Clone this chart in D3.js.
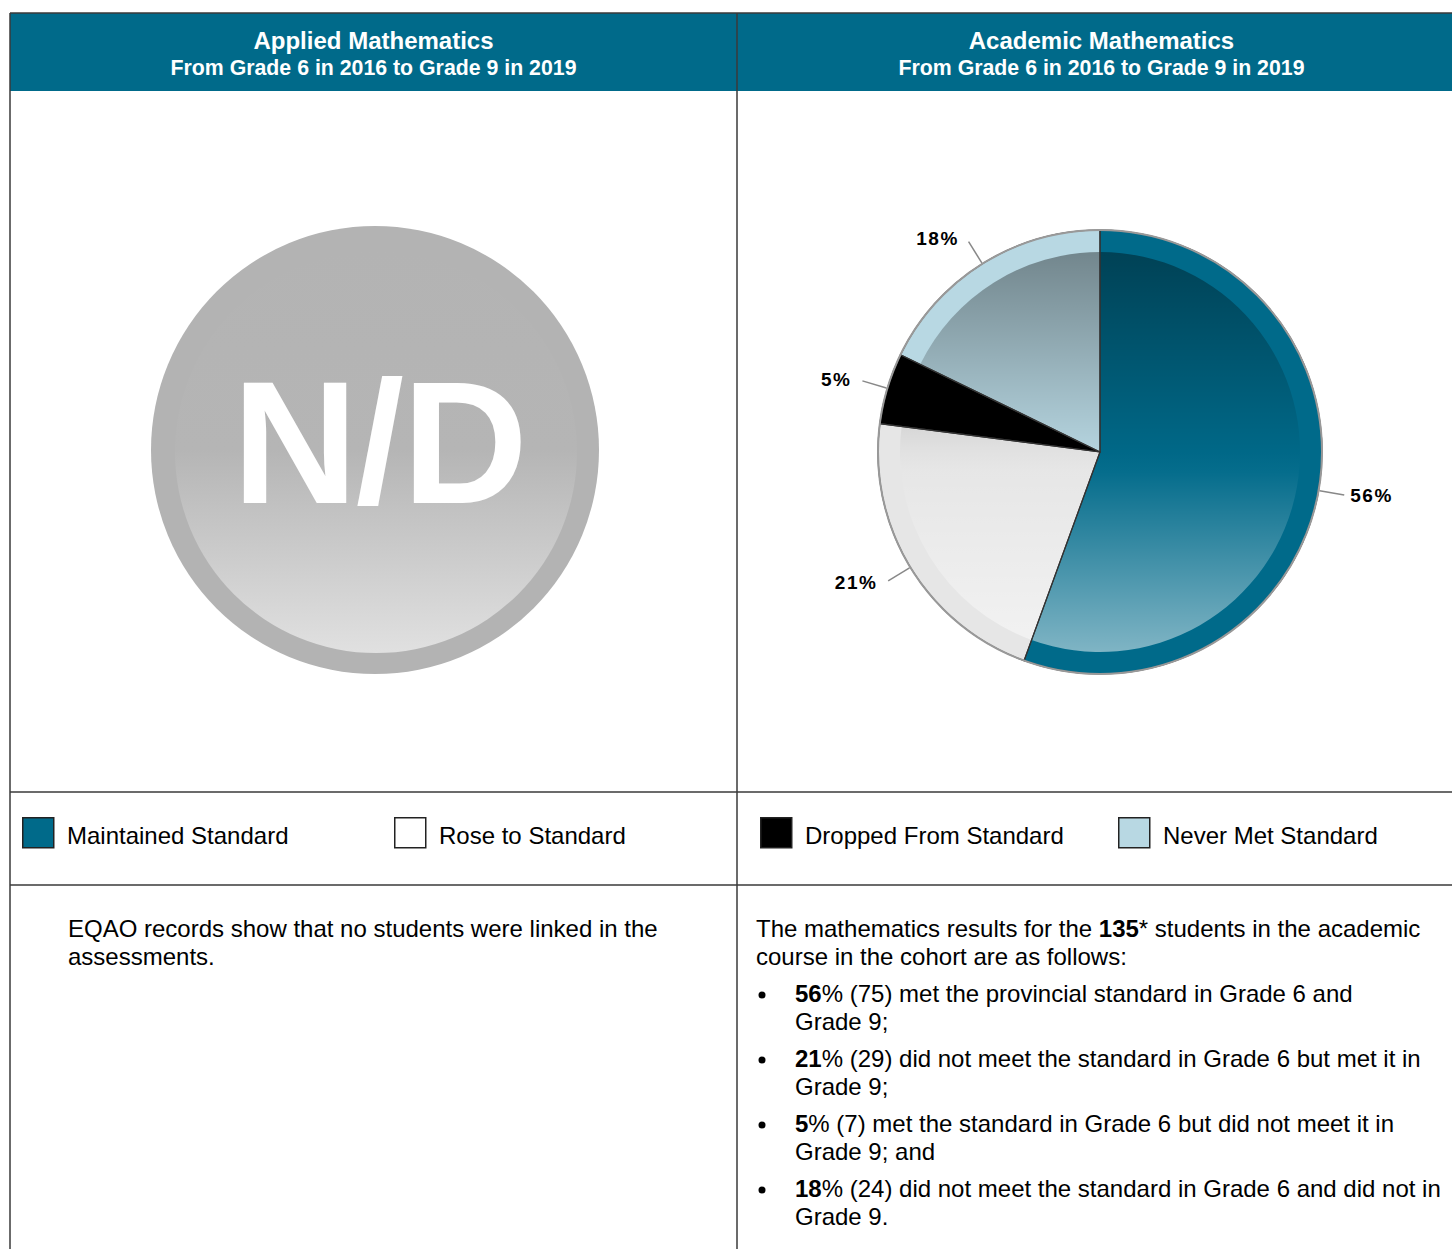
<!DOCTYPE html>
<html>
<head>
<meta charset="utf-8">
<script src="https://cdn.jsdelivr.net/npm/d3@7"></script>
<style>
  body { margin: 0; background: #fff; }
  svg { display: block; font-family: "Liberation Sans", Arial, sans-serif; }
</style>
</head>
<body>
<div id="chart"></div>
<script>
// Data
const categories = ["Maintained Standard", "Rose to Standard", "Dropped From Standard", "Never Met Standard"];
const counts = [75, 29, 7, 24];
const pctLabels = ["56%", "21%", "5%", "18%"];
const sliceColors = ["#006a8a", "#e6e6e6", "#000000", "#b8d8e3"];
const legendColors = ["#006a8a", "#ffffff", "#000000", "#b8d8e3"];
const titles = ["Applied Mathematics", "Academic Mathematics"];
const subtitle = "From Grade 6 in 2016 to Grade 9 in 2019";
const leftText = ["EQAO records show that no students were linked in the", "assessments."];
const introText = [
    [["The mathematics results for the ", false], ["135", true], ["* students in the academic", false]],
    [["course in the cohort are as follows:", false]]
];
const bullets = [
    [[["56", true], ["% (75) met the provincial standard in Grade 6 and", false]], [["Grade 9;", false]]],
    [[["21", true], ["% (29) did not meet the standard in Grade 6 but met it in", false]], [["Grade 9;", false]]],
    [[["5", true], ["% (7) met the standard in Grade 6 but did not meet it in", false]], [["Grade 9; and", false]]],
    [[["18", true], ["% (24) did not meet the standard in Grade 6 and did not in", false]], [["Grade 9.", false]]]
];

const W = 1452, H = 1249;
const svg = d3.select("#chart").append("svg").attr("width", W).attr("height", H);
const defs = svg.append("defs");

const left = 10, mid = 737, right = 1466;
const topY = 13, headBottom = 91, legendTop = 792, legendBottom = 885;

// header band
svg.append("rect").attr("x", left).attr("y", topY).attr("width", right - left).attr("height", headBottom - topY)
    .attr("fill", "#006a8a");

[(left + mid) / 2, (mid + right) / 2].forEach(function (cx, i) {
    svg.append("text").attr("x", cx).attr("y", 49).attr("text-anchor", "middle")
        .attr("fill", "#fff").attr("font-weight", "bold").attr("font-size", 24).text(titles[i]);
    svg.append("text").attr("x", cx).attr("y", 75).attr("text-anchor", "middle")
        .attr("fill", "#fff").attr("font-weight", "bold").attr("font-size", 21.3).text(subtitle);
});

// grid lines
const lineColor = "#3a3a3a";
function gridLine(x1, y1, x2, y2) {
    svg.append("line").attr("x1", x1).attr("y1", y1).attr("x2", x2).attr("y2", y2)
        .attr("stroke", lineColor).attr("stroke-width", 1.5);
}
gridLine(left, topY, right, topY);
gridLine(left, topY, left, H);
gridLine(mid, topY, mid, H);
gridLine(left, legendTop, right, legendTop);
gridLine(left, legendBottom, right, legendBottom);

// N/D placeholder
const nd = { x: 375, y: 450, r: 224 };
const ndGrad = defs.append("linearGradient").attr("id", "ndGrad")
    .attr("gradientUnits", "userSpaceOnUse")
    .attr("x1", 0).attr("y1", nd.y - 201).attr("x2", 0).attr("y2", nd.y + 201);
ndGrad.append("stop").attr("offset", "0%").attr("stop-color", "#b3b3b3");
ndGrad.append("stop").attr("offset", "50%").attr("stop-color", "#b5b5b5");
ndGrad.append("stop").attr("offset", "100%").attr("stop-color", "#e0e0e0");
svg.append("circle").attr("cx", nd.x).attr("cy", nd.y).attr("r", nd.r).attr("fill", "#b3b3b3");
svg.append("circle").attr("cx", nd.x + 1).attr("cy", nd.y + 2).attr("r", 201).attr("fill", "url(#ndGrad)");
svg.append("text").attr("x", nd.x + 4).attr("y", 503).attr("text-anchor", "middle")
    .attr("fill", "#fff").attr("font-weight", "bold").attr("font-size", 174)
    .attr("letter-spacing", -2).text("N/D");

// Pie
const pc = { x: 1100, y: 452 };
const radius = 222, innerR = 200;
const pie = d3.pie().sort(null).value(d => d);
const arcs = pie(counts);
const arcOuter = d3.arc().innerRadius(0).outerRadius(radius);
const arcInner = d3.arc().innerRadius(0).outerRadius(innerR);

const shade = defs.append("linearGradient").attr("id", "shade")
    .attr("gradientUnits", "userSpaceOnUse")
    .attr("x1", 0).attr("y1", -innerR).attr("x2", 0).attr("y2", innerR);
shade.append("stop").attr("offset", "0%").attr("stop-color", "#000").attr("stop-opacity", 0.38);
shade.append("stop").attr("offset", "50%").attr("stop-color", "#000").attr("stop-opacity", 0.02);
shade.append("stop").attr("offset", "55%").attr("stop-color", "#fff").attr("stop-opacity", 0.02);
shade.append("stop").attr("offset", "100%").attr("stop-color", "#fff").attr("stop-opacity", 0.5);

const g = svg.append("g").attr("transform", `translate(${pc.x},${pc.y})`);
g.selectAll("path.base").data(arcs).join("path").attr("class", "base")
    .attr("d", arcOuter).attr("fill", (d, i) => sliceColors[i]);
g.selectAll("path.shade").data(arcs).join("path").attr("class", "shade")
    .attr("d", arcInner).attr("fill", "url(#shade)");
g.selectAll("path.edge").data(arcs).join("path").attr("class", "edge")
    .attr("d", arcOuter).attr("fill", "none").attr("stroke", "#333").attr("stroke-width", 1.2);
g.append("circle").attr("r", radius).attr("fill", "none").attr("stroke", "#999").attr("stroke-width", 2);

// leader lines and labels
g.selectAll("line.leader").data(arcs).join("line").attr("class", "leader")
    .each(function (d) {
        const a = (d.startAngle + d.endAngle) / 2;
        d3.select(this)
            .attr("x1", Math.sin(a) * (radius + 1)).attr("y1", -Math.cos(a) * (radius + 1))
            .attr("x2", Math.sin(a) * 248).attr("y2", -Math.cos(a) * 248);
    })
    .attr("stroke", "#888").attr("stroke-width", 1.5);
g.selectAll("text.lbl").data(arcs).join("text").attr("class", "lbl")
    .each(function (d, i) {
        const a = (d.startAngle + d.endAngle) / 2;
        const onRight = Math.sin(a) > 0;
        d3.select(this)
            .attr("x", Math.sin(a) * 251 + (onRight ? 3 : -8))
            .attr("y", -Math.cos(a) * 251)
            .attr("dy", "0.33em")
            .attr("text-anchor", onRight ? "start" : "end")
            .text(pctLabels[i]);
    })
    .attr("font-size", 19).attr("font-weight", "bold").attr("letter-spacing", 1.6).attr("fill", "#000");

// Legend
const legendX = [22, 394, 760, 1118];
const legend = svg.selectAll("g.legend").data(categories).join("g").attr("class", "legend")
    .attr("transform", (d, i) => `translate(${legendX[i]},817)`);
legend.append("rect").attr("x", 0.75).attr("y", 0.75).attr("width", 31).attr("height", 30)
    .attr("fill", (d, i) => legendColors[i]).attr("stroke", "#222").attr("stroke-width", 1.5);
legend.append("text").attr("x", 45).attr("y", 27).attr("font-size", 24).attr("fill", "#000").text(d => d);

// Body text
function richLine(x, y, segs) {
    const t = svg.append("text").attr("x", x).attr("y", y).attr("font-size", 24).attr("fill", "#000");
    segs.forEach(function (s) {
        t.append("tspan").attr("font-weight", s[1] ? "bold" : "normal").text(s[0]);
    });
}
leftText.forEach(function (l, i) { richLine(68, 937 + i * 28, [[l, false]]); });
introText.forEach(function (l, i) { richLine(756, 937 + i * 28, l); });
bullets.forEach(function (b, i) {
    const y0 = 1002 + i * 65;
    svg.append("circle").attr("cx", 762).attr("cy", y0 - 7).attr("r", 3.5).attr("fill", "#000");
    b.forEach(function (l, j) { richLine(795, y0 + j * 28, l); });
});
</script>
</body>
</html>
